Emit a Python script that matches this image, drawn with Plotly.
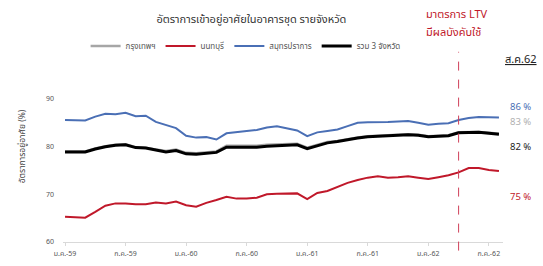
import plotly.graph_objects as go

months = [f"{m}-{y}" for y in ["59", "60", "61", "62"] for m in
          ["ม.ค.", "ก.พ.", "มี.ค.", "เม.ย.", "พ.ค.", "มิ.ย.", "ก.ค.", "ส.ค.", "ก.ย.", "ต.ค.", "พ.ย.", "ธ.ค."]][:44]

tick_labels = ["ม.ค.-59", "ก.ค.-59", "ม.ค.-60", "ก.ค.-60", "ม.ค.-61", "ก.ค.-61", "ม.ค.-62", "ก.ค.-62"]

samutprakan = [85.6, 85.5, 85.5, 86.3, 86.9, 86.8, 87.1, 86.4, 86.5, 85.2, 84.6, 83.9,
               82.3, 81.9, 82.0, 81.5, 82.8, 83.1, 83.3, 83.5, 84.0, 84.3, 83.9, 83.4,
               82.2, 83.0, 83.3, 83.6, 84.3, 85.0, 85.1, 85.1, 85.2, 85.3, 85.4, 85.0,
               84.6, 84.8, 84.9, 85.6, 86.0, 86.2, 86.1, 86.1]
total3 = [78.9, 78.9, 78.9, 79.5, 80.0, 80.3, 80.4, 79.8, 79.7, 79.3, 78.9, 79.2,
          78.5, 78.4, 78.6, 78.8, 79.9, 79.9, 79.9, 79.9, 80.1, 80.2, 80.3, 80.4,
          79.6, 80.2, 80.8, 81.1, 81.5, 81.8, 82.1, 82.2, 82.3, 82.4, 82.5, 82.4,
          82.1, 82.2, 82.3, 82.9, 83.0, 83.0, 82.8, 82.6]
bangkok = [79.0, 79.0, 79.0, 79.6, 80.1, 80.4, 80.5, 79.9, 79.8, 79.4, 79.1, 79.4,
           78.7, 78.6, 78.8, 79.0, 80.2, 80.2, 80.2, 80.2, 80.4, 80.5, 80.6, 80.6,
           79.8, 80.4, 81.0, 81.2, 81.6, 81.9, 82.2, 82.3, 82.4, 82.5, 82.6, 82.5,
           82.2, 82.3, 82.4, 83.0, 83.1, 83.1, 82.9, 82.7]
nonthaburi = [65.3, 65.2, 65.1, 66.3, 67.6, 68.1, 68.1, 67.9, 67.9, 68.3, 68.1, 68.5,
              67.7, 67.4, 68.2, 68.8, 69.5, 69.1, 69.1, 69.3, 70.0, 70.1, 70.2, 70.2,
              69.0, 70.3, 70.7, 71.6, 72.4, 73.0, 73.5, 73.8, 73.5, 73.6, 73.8, 73.5,
              73.2, 73.6, 74.0, 74.6, 75.5, 75.5, 75.1, 74.9]

end_labels = ["86 %", "83 %", "82 %", "75 %"]
ltv_month = "เม.ย.-62"
ltv_text = ["มาตรการ LTV", "มีผลบังคับใช้"]

FONT = "Noto Sans Thai, Noto Sans, DejaVu Sans, sans-serif"
x = list(range(len(months)))
tickvals = [months.index(t) for t in tick_labels]

fig = go.Figure()
series = [
    ("กรุงเทพฯ", bangkok, "#a6a6a6", 2.5),
    ("นนทบุรี", nonthaburi, "#c0182a", 2),
    ("สมุทรปราการ", samutprakan, "#4a6fb5", 2),
    ("รวม 3 จังหวัด", total3, "#000000", 3),
]
for name, vals, col, w in series:
    fig.add_trace(go.Scatter(x=x, y=vals, mode="lines", name=name,
                             line=dict(color=col, width=w), customdata=months))

# end labels
label_specs = [("#4a6fb5", end_labels[0], 88.3),
               ("#b0b0b0", end_labels[1], 85.1),
               ("#222222", end_labels[2], 79.9),
               ("#c0182a", end_labels[3], 69.4)]
for col, txt, ypos in label_specs:
    fig.add_annotation(x=1.0, xref="paper", xanchor="left", xshift=5, y=ypos, yref="y",
                       yanchor="middle", text=txt, showarrow=False,
                       font=dict(color=col, size=9.5, family=FONT))

ltv_x = months.index(ltv_month)
fig.add_shape(type="line", x0=ltv_x, x1=ltv_x, xref="x", y0=-0.06, y1=1.33, yref="paper",
              line=dict(color="#d0405a", width=1, dash="dash"))
for txt, ypos in zip(ltv_text, [1.589, 1.4625]):
    fig.add_annotation(x=ltv_x, xref="x", y=ypos, yref="paper", xanchor="left", yanchor="middle",
                       xshift=-35, text=txt, align="left", showarrow=False,
                       font=dict(color="#c0182a", size=11, family=FONT))
fig.add_annotation(x=1.0, xref="paper", xanchor="left", yanchor="middle", xshift=0, y=1.273,
                   yref="paper", text="<u>ส.ค.62</u>", showarrow=False,
                   font=dict(color="#222222", size=11, family=FONT))
fig.add_annotation(x=-0.093, xref="paper", y=0.67, yref="paper", xanchor="center",
                   yanchor="middle", showarrow=False,
                   text="อัตราการอยู่อาศัย (%)", textangle=-90,
                   font=dict(size=8.5, color="#444444", family=FONT))

fig.update_layout(
    width=543, height=266,
    margin=dict(l=63, r=40, t=99, b=24),
    paper_bgcolor="white", plot_bgcolor="white",
    font=dict(family=FONT, size=8, color="#444444"),
    title=dict(text="อัตราการเข้าอยู่อาศัยในอาคารชุด รายจังหวัด", x=0.463, xanchor="center",
               y=0.929, yanchor="middle", font=dict(size=11, color="#333333", family=FONT)),
    legend=dict(orientation="h", x=0.415, xanchor="center", y=1.371, yanchor="middle",
                font=dict(size=8, color="#555555"), itemwidth=30, tracegroupgap=0,
                bgcolor="rgba(0,0,0,0)"),
    showlegend=True,
)
fig.update_xaxes(range=[-0.2, 43.4], tickvals=tickvals, ticktext=tick_labels, automargin=False,
                 showgrid=False, showline=True, linecolor="#d9d9d9", linewidth=1,
                 ticks="outside", tickcolor="#d9d9d9", ticklen=3, ticklabelstandoff=2,
                 tickfont=dict(size=7, color="#555555"), zeroline=False)
fig.update_yaxes(range=[60, 90], tickvals=[60, 70, 80, 90], showgrid=False, showline=False,
                 zeroline=False, tickfont=dict(size=7, color="#555555"), automargin=False,
                 ticklabelstandoff=8)

fig.write_html("out.html", config={"displayModeBar": False},
               post_script="document.body.style.margin='0px';document.body.style.overflow='hidden';")
